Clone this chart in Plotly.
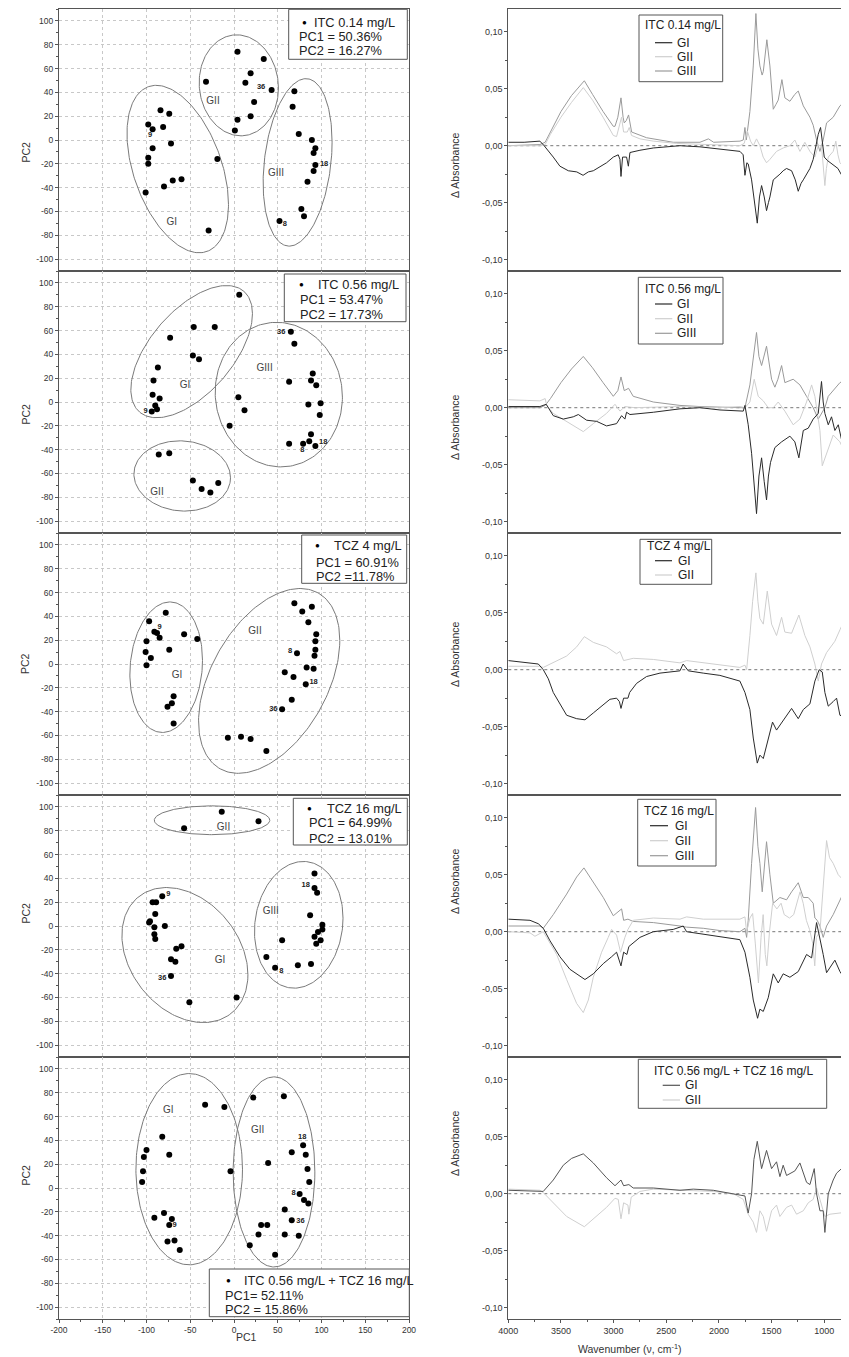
import numpy as np
import plotly.graph_objects as go

# ---------------- PCA score data (PC1, PC2) ----------------
p1_pc1 = [-98, -93, -84, -74, -81, -72, -93, -98, -98, -101, -80, -70, -60, -19, -29,
          -32, 4, 34, 19, 13, 43, 23, 19, 4, 1,
          69, 67, 74, 89, 93, 91, 93, 91, 84, 77, 80, 52]
p1_pc2 = [13, 9, 25, 22, 11, -3, -7, -15, -20, -44, -39, -34, -33, -16, -76,
          49, 74, 68, 56, 48, 42, 32, 20, 17, 8,
          41, 28, 5, 0, -7, -11, -21, -26, -35, -58, -64, -68]
p1_lab = ["9", "36", "18", "8"]
p1_lab_x = [-96, 31, 103, 58]
p1_lab_y = [4, 44, -20, -71]
p1_grp = ["GI", "GII", "GIII"]
p1_grp_x = [-71, -24, 48]
p1_grp_y = [-69, 32, -28]
p1_ell = [(-64.3, -24.4, 58, 70.3, 115), (5.5, 45.9, 45.3, 42.4, 93), (72.7, -18.8, 39.4, 70.3, 76)]

p2_pc1 = [6, -46, -22, -73, -47, -40, -87, -92, -93, -85, -90, -88, -94,
          -86, -74, -47, -37, -27, -18,
          65, 69, 63, 90, 88, 94, 85, 99, 98, 5, 12, -5, 63, 79, 86, 88, 93]
p2_pc2 = [90, 63, 63, 54, 39, 36, 29, 18, 6, 3, -3, -6, -8,
          -44, -43, -66, -73, -76, -68,
          59, 49, 17, 24, 18, 14, -2, -1, -11, 4, -7, -20, -35, -35, -33, -27, -37]
p2_lab = ["9", "36", "18", "8"]
p2_lab_x = [-101, 54, 102, 78]
p2_lab_y = [-8, 59, -34, -40]
p2_grp = ["GI", "GIII", "GII"]
p2_grp_x = [-56, 35, -88]
p2_grp_y = [14, 28, -76]
p2_ell = [(-48.4, 42.3, 69.5, 55.5, 55), (-59.2, -62.1, 55.2, 29.5, 93), (51.2, 6.2, 72.7, 60.7, 92)]

p3_pc1 = [-78, -97, -91, -88, -85, -57, -42, -100, -74, -101, -95, -100, -69, -71, -76, -69,
          69, 78, 89, 85, 94, 93, 93, 92, 72, 83, 91, 58, 68, 82, 66, 55, -7, 8, 19, 37]
p3_pc2 = [43, 36, 27, 26, 22, 25, 21, 19, 12, 10, 5, -1, -27, -33, -36, -50,
          51, 44, 48, 35, 25, 19, 12, 7, 9, -3, -4, -7, -11, -17, -30, -38, -62, -61, -63, -73]
p3_lab = ["9", "8", "18", "36"]
p3_lab_x = [-85, 64, 91, 45]
p3_lab_y = [31, 11, -15, -38]
p3_grp = ["GI", "GII"]
p3_grp_x = [-65, 24]
p3_grp_y = [-10, 27]
p3_ell = [(-77.5, -2.7, 41.5, 54.8, 84), (40.2, -14.2, 80.7, 77.6, 64)]

p4_pc1 = [-57, -14, 28,
          -82, -93, -89, -90, -96, -97, -91, -79, -91, -90, -60, -66, -72, -67, -72, -51, 3,
          92, 92, 95, 87, 101, 101, 96, 92, 99, 94, 55, 37, 47, 73, 88]
p4_pc2 = [82, 96, 88,
          25, 20, 20, 10, 4, 3, -1, 0, -7, -11, -17, -19, -28, -30, -42, -64, -60,
          44, 32, 28, 9, 1, -3, -5, -9, -12, -15, -12, -26, -35, -33, -32]
p4_lab = ["9", "18", "36", "8"]
p4_lab_x = [-75, 82, -82, 54]
p4_lab_y = [27, 34, -44, -38]
p4_grp = ["GII", "GIII", "GI"]
p4_grp_x = [-12, 42, -16]
p4_grp_y = [83, 12, -29]
p4_ell = [(-25.1, 88.8, 66, 12.1, 90), (-56.1, -24.4, 72, 56.7, 107), (74, 1, 50.6, 53.2, 84)]

p5_pc1 = [-33, -11, -82, -100, -103, -74, -104, -105, -4, -91, -80, -71, -74, -76, -68, -62,
          22, 57, 79, 66, 82, 39, 84, 86, 75, 80, 85, 58, 66, 31, 38, 28, 58, 74, 18, 47]
p5_pc2 = [70, 68, 43, 32, 26, 28, 14, 5, 14, -25, -21, -26, -31, -45, -44, -52,
          76, 77, 36, 30, 28, 21, 16, 5, -5, -10, -13, -18, -27, -31, -31, -39, -39, -40, -48, -56]
p5_lab = ["9", "18", "8", "36"]
p5_lab_x = [-68, 78, 68, 76]
p5_lab_y = [-31, 43, -4, -28]
p5_grp = ["GI", "GII"]
p5_grp_x = [-75, 27]
p5_grp_y = [65, 48]
p5_ell = [(-51.2, 15.8, 60.9, 80.3, 90), (45.7, 13.5, 46.7, 79.8, 90)]

pca_titles = ["ITC 0.14 mg/L", "ITC 0.56 mg/L", "TCZ 4 mg/L", "TCZ 16 mg/L", "ITC 0.56 mg/L + TCZ 16 mg/L"]
pca_pc1_txt = ["PC1 = 50.36%", "PC1 = 53.47%", "PC1 = 60.91%", "PC1 = 64.99%", "PC1= 52.11%"]
pca_pc2_txt = ["PC2 = 16.27%", "PC2 = 17.73%", "PC2 =11.78%", "PC2 = 13.01%", "PC2 = 15.86%"]

# ---------------- Difference spectra (wavenumber, delta absorbance) ----------------
s1_gi_wn = [4000, 3850, 3700, 3660, 3573, 3510, 3430, 3350, 3290, 3240, 3193, 3067, 3003, 2956, 2940, 2930, 2915, 2877, 2860, 2845, 2750, 2623, 2370, 2180, 1990, 1800, 1770, 1753, 1735, 1722, 1690, 1660, 1636, 1615, 1595, 1570, 1548, 1530, 1516, 1484, 1455, 1421, 1390, 1358, 1310, 1275, 1247, 1220, 1199, 1170, 1136, 1105, 1089, 1057, 1035, 1019, 1000, 970, 940, 900, 870, 840, 800, 765]
s1_gi_ab = [0.003, 0.003, 0.004, 0.0, -0.010, -0.018, -0.022, -0.023, -0.026, -0.023, -0.022, -0.015, -0.010, -0.008, -0.012, -0.027, -0.010, -0.010, -0.018, -0.006, -0.004, -0.002, 0.0, -0.001, -0.003, -0.005, -0.008, -0.026, -0.015, -0.016, -0.030, -0.050, -0.068, -0.045, -0.035, -0.045, -0.057, -0.050, -0.045, -0.030, -0.028, -0.025, -0.022, -0.020, -0.022, -0.030, -0.040, -0.033, -0.030, -0.025, -0.020, -0.012, -0.005, 0.010, 0.016, 0.005, -0.010, -0.013, -0.015, -0.018, -0.020, -0.025, -0.030, -0.035]
s1_gii_wn = [4000, 3700, 3650, 3600, 3500, 3400, 3288, 3200, 3100, 3003, 2972, 2945, 2925, 2905, 2870, 2852, 2830, 2750, 2623, 2400, 2000, 1800, 1760, 1730, 1700, 1674, 1643, 1611, 1580, 1548, 1516, 1453, 1390, 1326, 1279, 1231, 1184, 1136, 1089, 1057, 1026, 1005, 994, 980, 962, 915, 890, 870, 851, 800, 765]
s1_gii_ab = [0.0, 0.0, 0.001, 0.010, 0.025, 0.038, 0.051, 0.040, 0.025, 0.009, 0.008, 0.018, 0.025, 0.012, 0.012, 0.016, 0.009, 0.006, 0.004, 0.002, 0.001, 0.0, 0.002, 0.013, 0.004, 0.0, 0.006, 0.0, -0.010, -0.015, -0.012, -0.005, -0.002, 0.0, 0.005, -0.005, 0.003, -0.005, -0.010, 0.0, 0.0, -0.020, -0.035, -0.020, -0.010, -0.005, 0.004, -0.008, -0.015, -0.020, -0.022]
s1_giii_wn = [4000, 3700, 3650, 3600, 3500, 3400, 3278, 3200, 3100, 3003, 2987, 2960, 2930, 2910, 2899, 2880, 2858, 2829, 2750, 2687, 2434, 2180, 2100, 2050, 1800, 1769, 1753, 1740, 1706, 1674, 1649, 1630, 1611, 1590, 1579, 1545, 1516, 1484, 1460, 1437, 1402, 1374, 1326, 1280, 1247, 1199, 1136, 1105, 1073, 1041, 1010, 978, 915, 851, 765]
s1_giii_ab = [0.0, 0.001, 0.003, 0.012, 0.030, 0.044, 0.057, 0.045, 0.030, 0.017, 0.017, 0.025, 0.042, 0.025, 0.020, 0.022, 0.027, 0.012, 0.009, 0.007, 0.003, 0.003, 0.006, 0.003, 0.004, 0.005, 0.016, 0.005, 0.030, 0.070, 0.116, 0.085, 0.070, 0.062, 0.065, 0.093, 0.070, 0.032, 0.036, 0.040, 0.058, 0.042, 0.039, 0.045, 0.048, 0.035, 0.025, 0.018, 0.005, -0.005, 0.005, 0.020, 0.025, 0.035, 0.042]

s2_gi_wn = [4000, 3700, 3640, 3620, 3573, 3478, 3383, 3335, 3256, 3161, 3067, 2972, 2940, 2924, 2893, 2877, 2845, 2623, 2370, 2180, 1990, 1769, 1753, 1722, 1690, 1665, 1643, 1620, 1595, 1570, 1548, 1530, 1510, 1469, 1405, 1326, 1279, 1241, 1220, 1199, 1152, 1105, 1057, 1040, 1026, 1010, 994, 962, 931, 899, 867, 836, 800, 765]
s2_gi_ab = [0.001, 0.001, 0.003, 0.0, -0.007, -0.010, -0.008, -0.006, -0.011, -0.012, -0.016, -0.014, -0.010, -0.007, -0.010, -0.004, -0.006, -0.004, -0.001, 0.0, -0.002, -0.003, 0.002, -0.015, -0.040, -0.070, -0.093, -0.060, -0.044, -0.065, -0.081, -0.060, -0.048, -0.035, -0.030, -0.025, -0.030, -0.044, -0.030, -0.020, -0.018, -0.010, -0.005, 0.010, 0.023, 0.005, -0.005, -0.015, -0.008, -0.020, -0.015, -0.028, -0.030, -0.034]
s2_gii_wn = [4000, 3700, 3650, 3636, 3573, 3446, 3351, 3288, 3193, 3067, 2987, 2940, 2893, 2800, 2400, 2000, 1800, 1753, 1706, 1665, 1627, 1579, 1532, 1484, 1437, 1374, 1295, 1231, 1168, 1120, 1089, 1041, 1019, 978, 915, 851, 800, 765]
s2_gii_ab = [0.007, 0.006, 0.008, 0.002, -0.005, -0.012, -0.017, -0.021, -0.014, -0.005, 0.003, -0.003, 0.001, 0.0, 0.001, 0.0, 0.001, 0.0, 0.005, 0.025, 0.010, 0.006, 0.0, 0.0, 0.005, -0.003, -0.015, -0.010, 0.005, 0.020, 0.010, -0.020, -0.051, -0.040, -0.024, -0.030, -0.040, -0.048]
s2_giii_wn = [4000, 3700, 3650, 3600, 3500, 3400, 3288, 3200, 3100, 3003, 2960, 2930, 2899, 2858, 2814, 2623, 2370, 2180, 1800, 1753, 1706, 1674, 1643, 1620, 1595, 1548, 1520, 1500, 1469, 1440, 1405, 1374, 1295, 1231, 1168, 1105, 1057, 1026, 994, 962, 915, 851, 765]
s2_giii_ab = [0.0, 0.0, 0.002, 0.008, 0.022, 0.034, 0.045, 0.035, 0.022, 0.010, 0.015, 0.027, 0.015, 0.017, 0.010, 0.005, 0.002, 0.001, 0.0, 0.0, 0.020, 0.045, 0.066, 0.045, 0.037, 0.054, 0.035, 0.025, 0.018, 0.025, 0.037, 0.022, 0.025, 0.020, 0.010, 0.0, -0.010, -0.005, 0.0, 0.010, 0.015, 0.022, 0.026]

s3_gi_wn = [4000, 3889, 3715, 3668, 3620, 3573, 3510, 3446, 3351, 3272, 3193, 3114, 3035, 2972, 2945, 2930, 2905, 2864, 2848, 2782, 2687, 2560, 2370, 2340, 2291, 2149, 1991, 1801, 1753, 1706, 1674, 1636, 1611, 1579, 1532, 1491, 1453, 1390, 1310, 1247, 1199, 1136, 1089, 1048, 1019, 994, 962, 915, 883, 851, 800, 765]
s3_gi_ab = [0.008, 0.007, 0.005, 0.0, -0.008, -0.020, -0.030, -0.040, -0.043, -0.044, -0.038, -0.032, -0.026, -0.025, -0.028, -0.034, -0.025, -0.025, -0.020, -0.012, -0.006, -0.003, -0.001, 0.005, -0.001, -0.003, -0.005, -0.010, -0.020, -0.035, -0.060, -0.082, -0.075, -0.078, -0.060, -0.046, -0.053, -0.045, -0.034, -0.043, -0.035, -0.030, -0.010, 0.0, -0.002, -0.020, -0.032, -0.028, -0.025, -0.040, -0.042, -0.045]
s3_gii_wn = [4000, 3700, 3668, 3573, 3446, 3351, 3278, 3193, 3067, 2972, 2940, 2905, 2814, 2623, 2370, 2307, 2149, 1991, 1801, 1753, 1737, 1706, 1680, 1649, 1630, 1611, 1579, 1541, 1500, 1453, 1405, 1374, 1310, 1241, 1184, 1136, 1089, 1057, 1026, 978, 899, 851, 788, 765]
s3_gii_ab = [0.003, 0.003, 0.002, 0.006, 0.012, 0.020, 0.029, 0.024, 0.020, 0.014, 0.016, 0.008, 0.010, 0.009, 0.006, 0.008, 0.006, 0.004, 0.002, 0.004, 0.0, 0.030, 0.060, 0.085, 0.060, 0.045, 0.040, 0.069, 0.040, 0.030, 0.046, 0.033, 0.032, 0.048, 0.030, 0.020, 0.005, -0.010, 0.005, 0.015, 0.025, 0.035, 0.048, 0.046]

s4_gi_wn = [4000, 3794, 3715, 3668, 3604, 3510, 3415, 3320, 3272, 3193, 3098, 3019, 2972, 2930, 2905, 2874, 2855, 2750, 2623, 2434, 2339, 2307, 2149, 1991, 1801, 1753, 1706, 1674, 1633, 1611, 1579, 1532, 1484, 1437, 1390, 1326, 1247, 1168, 1120, 1073, 1048, 1010, 978, 931, 899, 851, 800, 765]
s4_gi_ab = [0.011, 0.010, 0.007, 0.003, -0.008, -0.022, -0.033, -0.039, -0.042, -0.037, -0.028, -0.022, -0.018, -0.030, -0.018, -0.020, -0.013, -0.005, 0.0, 0.002, 0.005, 0.0, -0.002, -0.004, -0.007, -0.018, -0.040, -0.060, -0.076, -0.068, -0.070, -0.058, -0.037, -0.045, -0.037, -0.040, -0.035, -0.020, -0.023, 0.008, -0.002, -0.020, -0.036, -0.030, -0.025, -0.035, -0.042, -0.045]
s4_gii_wn = [4000, 3794, 3747, 3668, 3636, 3541, 3446, 3351, 3288, 3240, 3193, 3114, 3051, 3019, 2972, 2934, 2893, 2864, 2814, 2623, 2370, 2307, 2149, 1801, 1753, 1737, 1706, 1680, 1655, 1625, 1600, 1580, 1560, 1545, 1520, 1490, 1450, 1410, 1380, 1330, 1290, 1250, 1230, 1200, 1170, 1140, 1110, 1090, 1075, 1041, 1010, 978, 950, 915, 867, 820, 765]
s4_gii_ab = [0.0, -0.001, -0.004, 0.0, -0.005, -0.020, -0.042, -0.063, -0.071, -0.060, -0.040, -0.018, -0.005, 0.002, -0.003, -0.018, -0.005, 0.002, 0.010, 0.012, 0.011, 0.013, 0.011, 0.011, 0.013, 0.0, 0.012, 0.016, -0.010, -0.045, -0.005, 0.015, -0.020, -0.030, 0.0, 0.025, 0.020, 0.025, 0.015, 0.012, 0.015, 0.030, 0.035, 0.025, 0.010, 0.002, -0.010, -0.030, -0.005, 0.0, 0.040, 0.080, 0.065, 0.060, 0.050, 0.045, 0.040]
s4_giii_wn = [4000, 3700, 3668, 3573, 3446, 3351, 3282, 3193, 3098, 3003, 2956, 2924, 2905, 2864, 2814, 2623, 2370, 2307, 2149, 1991, 1801, 1753, 1737, 1722, 1690, 1652, 1630, 1611, 1589, 1548, 1516, 1484, 1421, 1358, 1310, 1247, 1199, 1152, 1105, 1089, 1067, 1041, 1010, 978, 915, 851, 788, 765]
s4_giii_ab = [0.005, 0.005, 0.003, 0.015, 0.033, 0.048, 0.056, 0.043, 0.030, 0.014, 0.018, 0.020, 0.010, 0.011, 0.009, 0.008, 0.005, 0.004, 0.003, 0.001, 0.0, 0.003, -0.005, 0.010, 0.060, 0.109, 0.075, 0.060, 0.035, 0.079, 0.050, 0.025, 0.030, 0.028, 0.035, 0.043, 0.030, 0.030, 0.025, 0.012, 0.010, 0.005, -0.005, 0.005, 0.015, 0.027, 0.040, 0.042]

s5_gi_wn = [4000, 3699, 3668, 3573, 3478, 3399, 3288, 3193, 3067, 2987, 2930, 2905, 2855, 2814, 2623, 2370, 2244, 2054, 1864, 1753, 1737, 1722, 1690, 1668, 1636, 1595, 1548, 1500, 1453, 1421, 1390, 1358, 1279, 1231, 1168, 1136, 1095, 1073, 1041, 1010, 994, 962, 915, 883, 836, 765]
s5_gi_ab = [0.003, 0.002, 0.002, 0.012, 0.025, 0.031, 0.035, 0.027, 0.014, 0.007, 0.012, 0.007, 0.008, 0.005, 0.005, 0.003, 0.004, 0.003, 0.0, -0.002, -0.010, -0.017, 0.0, 0.030, 0.046, 0.022, 0.038, 0.022, 0.028, 0.015, 0.025, 0.016, 0.020, 0.027, 0.010, 0.008, 0.022, 0.0, -0.015, -0.015, -0.034, 0.0, 0.012, 0.018, 0.022, 0.035]
s5_gii_wn = [4000, 3699, 3668, 3573, 3446, 3278, 3193, 3067, 2987, 2956, 2930, 2905, 2864, 2855, 2833, 2750, 2623, 2370, 2054, 1864, 1769, 1722, 1674, 1643, 1611, 1579, 1548, 1500, 1453, 1421, 1358, 1310, 1263, 1199, 1152, 1105, 1073, 1041, 994, 946, 851, 765]
s5_gii_ab = [0.004, 0.003, 0.001, -0.008, -0.020, -0.029, -0.022, -0.012, -0.004, -0.005, -0.022, -0.008, -0.010, -0.018, -0.003, 0.002, 0.004, 0.003, 0.002, 0.0, -0.005, -0.018, -0.025, -0.034, -0.015, -0.020, -0.033, -0.015, -0.010, -0.020, -0.012, -0.010, -0.018, -0.015, -0.008, -0.005, 0.005, -0.005, -0.020, -0.018, -0.017, -0.016]

spec_titles = ["ITC 0.14 mg/L", "ITC 0.56 mg/L", "TCZ 4 mg/L", "TCZ 16 mg/L", "ITC 0.56 mg/L + TCZ 16 mg/L"]
group_names = ["GI", "GII", "GIII"]

# ---------------- styling / geometry ----------------
# the page body has an 8px margin, so the figure is sized to end at the window edge
OFF = 8
W, H = 849 - OFF, 1357 - OFF
FONT = "Liberation Sans"
TOPS = [9, 271, 533, 795, 1057]
BOTS = [271, 533, 795, 1057, 1319]
LX0, LX1 = 59, 409
RX0 = 508.3
C_GI, C_GII, C_GIII = "#2a2a2a", "#cfcfcf", "#9a9a9a"
C_GI5 = "#555555"
FRAME = "#555555"


def px(x):
    return (x - OFF) / W


def py(y):
    return 1 - (y - OFF) / H


def f(size, color="#333"):
    return dict(family=FONT, size=size, color=color)


fig = go.Figure()
layout = dict(width=W, height=H, margin=dict(l=0, r=0, t=0, b=0, autoexpand=False),
              paper_bgcolor="white", plot_bgcolor="white", showlegend=False,
              font=f(10))

pca = [
    (p1_pc1, p1_pc2, p1_lab, p1_lab_x, p1_lab_y, p1_grp, p1_grp_x, p1_grp_y, p1_ell),
    (p2_pc1, p2_pc2, p2_lab, p2_lab_x, p2_lab_y, p2_grp, p2_grp_x, p2_grp_y, p2_ell),
    (p3_pc1, p3_pc2, p3_lab, p3_lab_x, p3_lab_y, p3_grp, p3_grp_x, p3_grp_y, p3_ell),
    (p4_pc1, p4_pc2, p4_lab, p4_lab_x, p4_lab_y, p4_grp, p4_grp_x, p4_grp_y, p4_ell),
    (p5_pc1, p5_pc2, p5_lab, p5_lab_x, p5_lab_y, p5_grp, p5_grp_x, p5_grp_y, p5_ell),
]

spectra = [
    [(s1_gi_wn, s1_gi_ab, C_GI), (s1_gii_wn, s1_gii_ab, C_GII), (s1_giii_wn, s1_giii_ab, C_GIII)],
    [(s2_gi_wn, s2_gi_ab, C_GI), (s2_gii_wn, s2_gii_ab, C_GII), (s2_giii_wn, s2_giii_ab, C_GIII)],
    [(s3_gi_wn, s3_gi_ab, C_GI), (s3_gii_wn, s3_gii_ab, C_GII)],
    [(s4_gi_wn, s4_gi_ab, C_GI), (s4_gii_wn, s4_gii_ab, C_GII), (s4_giii_wn, s4_giii_ab, C_GIII)],
    [(s5_gi_wn, s5_gi_ab, C_GI5), (s5_gii_wn, s5_gii_ab, C_GII)],
]

shapes = []
annotations = []
t = np.linspace(0, 2 * np.pi, 200)

left_ticks = list(range(-100, 101, 20))
right_tickvals = [-0.10, -0.05, 0.0, 0.05, 0.10]
right_ticktext = ["-0,10", "-0,05", "0,00", "0,05", "0,10"]

for i in range(5):
    # ----- left PCA panel -----
    k = i + 1
    xa = "x" if k == 1 else f"x{k}"
    ya = "y" if k == 1 else f"y{k}"
    last = (i == 4)
    layout[f"xaxis{k}"] = dict(
        domain=[px(LX0), px(LX1)], anchor=ya, range=[-200, 200], automargin=False,
        tickvals=[-200, -150, -100, -50, 0, 50, 100, 150, 200],
        ticktext=["-200", "-150", "-100", "-50", "0", "50", "100", "150", "200"],
        showgrid=True, gridcolor="#c8c8c8", griddash="dot", gridwidth=1,
        zeroline=False, showline=True, linecolor=FRAME, linewidth=1, mirror=True,
        ticks="outside" if last else "", ticklen=3, tickcolor=FRAME,
        showticklabels=last, tickfont=f(8.5),
        minor=dict(tickvals=[-175, -125, -75, -25, 25, 75, 125, 175],
                   ticks="outside" if last else "", ticklen=2, tickcolor=FRAME, showgrid=False),
    )
    layout[f"yaxis{k}"] = dict(
        domain=[py(BOTS[i]), py(TOPS[i])], anchor=xa, range=[-110, 110], automargin=False,
        tickvals=left_ticks, ticktext=[str(v) for v in left_ticks],
        showgrid=True, gridcolor="#c8c8c8", griddash="dot", gridwidth=1,
        zeroline=False, showline=True, linecolor=FRAME, linewidth=1, mirror=True,
        ticks="outside", ticklen=3, tickcolor=FRAME, tickfont=f(8.5),
        minor=dict(tickvals=list(range(-110, 111, 20)), ticks="outside", ticklen=2, tickcolor=FRAME, showgrid=False),
    )
    pc1, pc2, lab, lx, ly, grp, gx, gy, ells = pca[i]
    for (cx, cy, hx, hy, dl) in ells:
        d = np.deg2rad(dl)
        fig.add_trace(go.Scatter(x=cx + hx * np.cos(t), y=cy + hy * np.cos(t - d), mode="lines",
                                 line=dict(color="#7a7a7a", width=1), xaxis=xa, yaxis=ya, hoverinfo="skip"))
    fig.add_trace(go.Scatter(x=pc1, y=pc2, mode="markers", marker=dict(color="black", size=6),
                             xaxis=xa, yaxis=ya))
    fig.add_trace(go.Scatter(x=lx, y=ly, mode="text", text=["<b>" + s + "</b>" for s in lab],
                             textfont=f(7.5, "#222"), xaxis=xa, yaxis=ya))
    fig.add_trace(go.Scatter(x=gx, y=gy, mode="text", text=grp,
                             textfont=f(10, "#444"), xaxis=xa, yaxis=ya))
    annotations.append(dict(text="PC2", x=px(17), y=py((TOPS[i] + BOTS[i]) / 2), xref="paper", yref="paper",
                            showarrow=False, textangle=-90, font=f(10.5)))

    # ----- right spectra panel -----
    k2 = i + 6
    xa2, ya2 = f"x{k2}", f"y{k2}"
    xt = dict(
        domain=[px(RX0), 1.0], anchor=ya2, range=[4000, 765], autorange=False, automargin=False,
        showgrid=False, zeroline=False, showline=True, linecolor=FRAME, linewidth=1, mirror=True,
        showticklabels=last, tickfont=f(9),
    )
    if last:
        xt.update(ticks="outside", ticklen=3, tickcolor=FRAME,
                  tickvals=[4000, 3500, 3000, 2500, 2000, 1500, 1000],
                  ticktext=["4000", "3500", "3000", "2500", "2000", "1500", "1000"],
                  minor=dict(tickvals=[3750, 3250, 2750, 2250, 1750, 1250, 750],
                             ticks="outside", ticklen=2, tickcolor=FRAME))
    else:
        xt.update(ticks="", showticklabels=False)
    layout[f"xaxis{k2}"] = xt
    layout[f"yaxis{k2}"] = dict(
        domain=[py(BOTS[i]), py(TOPS[i])], anchor=xa2, range=[-0.11, 0.12], automargin=False,
        tickvals=right_tickvals, ticktext=right_ticktext,
        showgrid=False, zeroline=False, showline=True, linecolor=FRAME, linewidth=1, mirror=False,
        ticks="outside", ticklen=3, tickcolor=FRAME, tickfont=f(9),
        minor=dict(tickvals=[-0.075, -0.025, 0.025, 0.075], ticks="outside", ticklen=2, tickcolor=FRAME),
    )
    shapes.append(dict(type="line", xref=f"{xa2} domain", yref=ya2, x0=0, x1=1, y0=0, y1=0,
                       line=dict(color="#777", width=1, dash="dot"), layer="below"))
    for (wn, ab, col) in reversed(spectra[i]):
        fig.add_trace(go.Scatter(x=wn, y=ab, mode="lines", line=dict(color=col, width=1),
                                 xaxis=xa2, yaxis=ya2))
    annotations.append(dict(text="Δ Absorbance", x=px(455), y=py((TOPS[i] + BOTS[i]) / 2 - 10),
                            xref="paper", yref="paper", showarrow=False, textangle=-90, font=f(10.5)))

# ---------------- left legend boxes ----------------
left_boxes = [(288.7, 9.3, 407.3, 59.3), (284.3, 274, 406, 321.7), (301.7, 535, 406.7, 583.3),
              (293.3, 798.3, 407.3, 845), (209.3, 1269, 409.3, 1316.7)]
left_lines_y = [(22.7, 36.7, 51), (284.3, 299.3, 314.3), (545.7, 562.3, 576.7),
                (808.3, 823, 838.7), (1280, 1295, 1309)]
left_bullet_x = [304.3, 301, 317.7, 309.3, 228.3]
left_text_x = [312.3, 316, 332.3, 325, 242.3]
left_pc_x = [297.3, 297.7, 314.3, 306.7, 223.3]
for i in range(5):
    x0, y0, x1, y1 = left_boxes[i]
    shapes.append(dict(type="rect", xref="paper", yref="paper", x0=px(x0), x1=px(x1), y0=py(y1), y1=py(y0),
                       line=dict(color="#555", width=1), fillcolor="white", layer="above"))
    ly1, ly2, ly3 = left_lines_y[i]
    annotations.append(dict(text="●", x=px(left_bullet_x[i]), y=py(ly1), xref="paper", yref="paper",
                            xanchor="center", yanchor="middle", showarrow=False, font=f(8, "black")))
    for txt, xx, yy in [(pca_titles[i], left_text_x[i], ly1), (pca_pc1_txt[i], left_pc_x[i], ly2),
                        (pca_pc2_txt[i], left_pc_x[i], ly3)]:
        annotations.append(dict(text=txt, x=px(xx), y=py(yy), xref="paper", yref="paper",
                                xanchor="left", yanchor="middle", showarrow=False, font=f(12.8, "#222")))

# ---------------- right legend boxes ----------------
right_boxes = [(639, 15, 722.7, 81.7), (638.3, 277.3, 723, 344), (640, 539.3, 711.7, 584.3),
               (637.7, 799.3, 716, 866), (638.3, 1059.3, 826.7, 1108.3)]
right_title_pos = [(642.7, 24.7), (642.7, 289), (645.3, 546), (642.3, 810.7), (652.3, 1071)]
right_item_y = [(42.7, 56.7, 71), (304, 318.7, 333.3), (560.7, 575), (825.7, 840.7, 855.7), (1085.3, 1100)]
right_line_x = [(655, 672.3, 675), (655, 672.3, 675), (655, 672, 676), (650, 668, 673.3), (662.7, 680, 683.3)]
for i in range(5):
    x0, y0, x1, y1 = right_boxes[i]
    shapes.append(dict(type="rect", xref="paper", yref="paper", x0=px(x0), x1=px(x1), y0=py(y1), y1=py(y0),
                       line=dict(color="#555", width=1), fillcolor="white", layer="above"))
    tx, ty = right_title_pos[i]
    annotations.append(dict(text=spec_titles[i], x=px(tx), y=py(ty), xref="paper", yref="paper",
                            xanchor="left", yanchor="middle", showarrow=False, font=f(12, "#222")))
    lx0, lx1, ltx = right_line_x[i]
    for j, yy in enumerate(right_item_y[i]):
        col = spectra[i][j][2]
        shapes.append(dict(type="line", xref="paper", yref="paper", x0=px(lx0), x1=px(lx1), y0=py(yy), y1=py(yy),
                           line=dict(color=col, width=1.2), layer="above"))
        annotations.append(dict(text=group_names[j], x=px(ltx), y=py(yy), xref="paper", yref="paper",
                                xanchor="left", yanchor="middle", showarrow=False, font=f(12, "#222")))

# ---------------- axis titles ----------------
annotations.append(dict(text="PC1", x=px(234), y=py(1345), xref="paper", yref="paper", showarrow=False,
                        font=f(10.5)))
annotations.append(dict(text="Wavenumber (ν, cm<sup>-1</sup>)", x=px(684), y=0, xref="paper",
                        yref="paper", yanchor="bottom", showarrow=False, font=f(10.5)))

layout["shapes"] = shapes
layout["annotations"] = annotations
fig.update_layout(**layout)
fig.write_html("out.html")
